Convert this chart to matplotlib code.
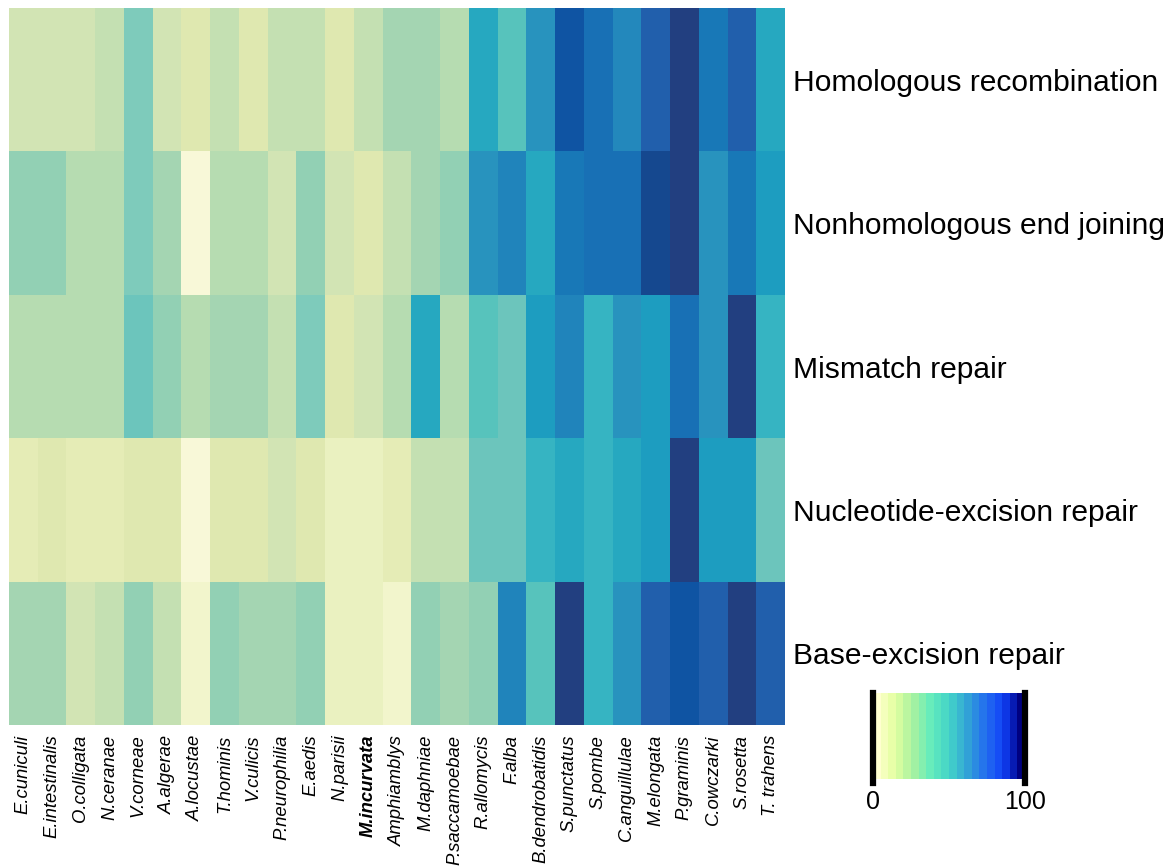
import numpy as np
import matplotlib
matplotlib.use('Agg')
import matplotlib.pyplot as plt
from matplotlib.colors import ListedColormap, BoundaryNorm, LinearSegmentedColormap
from matplotlib.cm import ScalarMappable

plt.rcParams['font.family'] = ['Liberation Sans', 'DejaVu Sans']

species = ['E.cuniculi', 'E.intestinalis', 'O.colligata', 'N.ceranae', 'V.corneae',
           'A.algerae', 'A.locustae', 'T.hominis', 'V.culicis', 'P.neurophilia',
           'E.aedis', 'N.parisii', 'M.incurvata', 'Amphiamblys', 'M.daphniae',
           'P.saccamoebae', 'R.allomycis', 'F.alba', 'B.dendrobatidis', 'S.punctatus',
           'S.pombe', 'C.anguillulae', 'M.elongata', 'P.graminis', 'C.owczarki',
           'S.rosetta', 'T. trahens']

pathways = ['Homologous recombination', 'Nonhomologous end joining', 'Mismatch repair',
            'Nucleotide-excision repair', 'Base-excision repair']

# scores (0-100)
hr = [22, 22, 22, 26, 42, 22, 18, 26, 18, 26, 26, 18, 26, 34, 34, 30, 58, 50, 66, 90, 82, 70, 86, 98, 78, 86, 58]
nhej = [38, 38, 30, 30, 42, 34, 2, 30, 30, 22, 38, 22, 18, 26, 34, 38, 66, 74, 58, 78, 82, 82, 94, 98, 66, 78, 62]
mmr = [30, 30, 30, 30, 46, 38, 30, 34, 34, 26, 42, 18, 22, 30, 58, 30, 50, 46, 62, 74, 54, 66, 62, 82, 66, 98, 54]
ner = [14, 18, 14, 14, 18, 18, 2, 18, 18, 22, 18, 10, 10, 14, 26, 26, 46, 46, 54, 58, 54, 58, 62, 98, 62, 62, 46]
ber = [34, 34, 22, 26, 38, 26, 6, 38, 34, 34, 38, 10, 10, 6, 38, 34, 38, 74, 50, 98, 54, 66, 86, 90, 86, 98, 86]

cell_colors = ['#f8f8d8', '#f2f5cc', '#eaf1c0', '#e5ecb6', '#dfe8b0', '#d2e4b4', '#c4e0b2',
               '#b6dcb1', '#a4d5b2', '#92d0b4', '#7ecbbb', '#6cc5bc', '#57c3bc', '#36b4c2',
               '#26a8c0', '#1d9dc0', '#2893be', '#2388bc', '#2084bb', '#1878b7', '#1870b5',
               '#215fac', '#0f54a3', '#15488f', '#223f80']
legend_colors = ['#ffffd0', '#e4ffa0', '#a8f2a0', '#64ecbc', '#44d4c8', '#32a4d6',
                 '#2470ee', '#1040f8', '#000080']

data = np.array([hr, nhej, mmr, ner, ber])

cmap = ListedColormap(cell_colors)
norm = BoundaryNorm(np.linspace(0, 100, len(cell_colors) + 1), cmap.N)

fig = plt.figure(figsize=(11.69, 8.68), dpi=100)
ax = fig.add_axes([9 / 1169, 1 - 725 / 868, 776 / 1169, 717 / 868])
ax.pcolormesh(data, cmap=cmap, norm=norm)
ax.set_xlim(0, len(species))
ax.set_ylim(len(pathways), 0)
for s in ax.spines.values():
    s.set_visible(False)

ax.set_xticks(np.arange(len(species)) + 0.5)
ax.set_xticklabels(species, rotation=90, fontsize=13.3, fontstyle='italic', va='top', ha='center')
for lab in ax.get_xticklabels():
    if lab.get_text() == 'M.incurvata':
        lab.set_fontweight('bold')

ax.yaxis.tick_right()
ax.set_yticks(np.arange(len(pathways)) + 0.5)
ax.set_yticklabels(pathways, fontsize=21.6)
ax.tick_params(axis='both', length=0)
ax.tick_params(axis='x', pad=7)
ax.tick_params(axis='y', pad=6)

# legend bar
cax = fig.add_axes([873 / 1169, 1 - 779 / 868, 152 / 1169, 86 / 868])
lcmap = LinearSegmentedColormap.from_list('leg', legend_colors, N=20)
sm = ScalarMappable(cmap=lcmap, norm=plt.Normalize(0, 100))
cb = fig.colorbar(sm, cax=cax, orientation='horizontal')
cb.outline.set_visible(False)
cb.set_ticks([0, 100])
cb.ax.tick_params(length=0, labelsize=18, pad=8)
for v in [0, 100]:
    cax.axvline(v, color='black', lw=4.5, ymin=-0.05, ymax=1.0, clip_on=False)

fig.savefig('out.png', dpi=100)
